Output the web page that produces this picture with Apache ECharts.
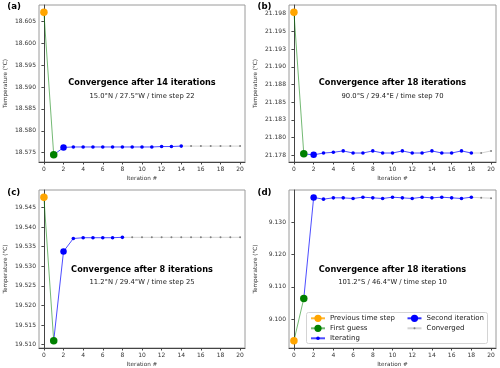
<!DOCTYPE html>
<html><head><meta charset="utf-8">
<script src="https://cdn.jsdelivr.net/npm/echarts@6/dist/echarts.min.js"></script>
<style>html,body{margin:0;padding:0;background:#fff}#c{width:500px;height:368px}</style>
</head><body><div id="c"></div>
<script>
// ---------- data ----------
const panelLabels = ['(a)', '(b)', '(c)', '(d)'];
const titles = ['Convergence after 14 iterations', 'Convergence after 18 iterations',
                'Convergence after 8 iterations', 'Convergence after 18 iterations'];
const subtitles = ['15.0°N / 27.5°W / time step 22', '90.0°S / 29.4°E / time step 70',
                   '11.2°N / 29.4°W / time step 25', '101.2°S / 46.4°W / time step 10'];
const xTicks = [0, 2, 4, 6, 8, 10, 12, 14, 16, 18, 20];
const xName = 'Iteration #';
const yName = 'Temperature (°C)';
const seriesNames = ['Previous time step', 'First guess', 'Iterating', 'Second iteration', 'Converged'];

// panel (a)
const prevA = 18.6071;
const firstA = 18.5745;
const iterA = [18.5762, 18.5763, 18.5763, 18.5763, 18.5763, 18.5763, 18.5763, 18.5763, 18.5763, 18.5763, 18.5764, 18.5764, 18.5765];
const convA = [18.5765, 18.5765, 18.5765, 18.5765, 18.5765, 18.5765];
const yTicksA = [18.575, 18.580, 18.585, 18.590, 18.595, 18.600, 18.605];
const yLabelsA = ['18.575', '18.580', '18.585', '18.590', '18.595', '18.600', '18.605'];

// panel (b)
const prevB = 21.19774;
const firstB = 21.17768;
const iterB = [21.17754, 21.1778, 21.1779, 21.1781, 21.1778, 21.1778, 21.1781, 21.1778, 21.1778, 21.1781, 21.1778, 21.1778, 21.1781, 21.1778, 21.1778, 21.1781, 21.1778];
const convB = [21.1778, 21.1781];
const yTicksB = [21.1775, 21.1800, 21.1825, 21.1850, 21.1875, 21.1900, 21.1925, 21.1950, 21.1975];
const yLabelsB = ['21.178', '21.180', '21.183', '21.185', '21.188', '21.190', '21.193', '21.195', '21.198'];

// panel (c)
const prevC = 19.54766;
const firstC = 19.51095;
const iterC = [19.5338, 19.5371, 19.5373, 19.5373, 19.5373, 19.5373, 19.5374];
const convC = [19.5374, 19.5374, 19.5374, 19.5374, 19.5374, 19.5374, 19.5374, 19.5374, 19.5374, 19.5374, 19.5374, 19.5374];
const yTicksC = [19.510, 19.515, 19.520, 19.525, 19.530, 19.535, 19.540, 19.545];
const yLabelsC = ['19.510', '19.515', '19.520', '19.525', '19.530', '19.535', '19.540', '19.545'];

// panel (d)
const prevD = 9.09337;
const firstD = 9.10644;
const iterD = [9.1376, 9.1371, 9.1375, 9.1375, 9.1373, 9.1377, 9.1375, 9.1373, 9.1377, 9.1375, 9.1373, 9.1377, 9.1375, 9.1377, 9.1375, 9.1373, 9.1377];
const convD = [9.1375, 9.1374];
const yTicksD = [9.100, 9.110, 9.120, 9.130];
const yLabelsD = ['9.100', '9.110', '9.120', '9.130'];

// ---------- build ----------
const panels = [
  {prev: prevA, first: firstA, iter: iterA, conv: convA, ticks: yTicksA, labels: yLabelsA},
  {prev: prevB, first: firstB, iter: iterB, conv: convB, ticks: yTicksB, labels: yLabelsB},
  {prev: prevC, first: firstC, iter: iterC, conv: convC, ticks: yTicksC, labels: yLabelsC},
  {prev: prevD, first: firstD, iter: iterD, conv: convD, ticks: yTicksD, labels: yLabelsD}
];
const gridRects = [
  {left: 39, top: 5, width: 206, height: 157},
  {left: 289, top: 5, width: 207, height: 157},
  {left: 39, top: 190, width: 206, height: 158},
  {left: 289, top: 190, width: 207, height: 158}
];
const FONT = '"DejaVu Sans", sans-serif';
const C_ORANGE = '#FFA500', C_GREEN = '#008000', C_BLUE = '#0000FF', C_GREY = '#808080';

const grid = [], xAxis = [], yAxis = [], series = [], graphics = [];
panels.forEach((p, i) => {
  const all = [p.prev, p.first].concat(p.iter, p.conv);
  const lo = Math.min(...all), hi = Math.max(...all), m = (hi - lo) * 0.05;
  grid.push(Object.assign({show: true, borderColor: '#9a9a9a', borderWidth: 1, outerBoundsMode: 'none', containLabel: false}, gridRects[i]));
  xAxis.push({
    type: 'value', gridIndex: i, min: -0.5, max: 20.5,
    name: xName, nameLocation: 'middle', nameGap: 13.5,
    nameTextStyle: {fontFamily: FONT, fontSize: 5.7, color: '#333'},
    axisLine: {show: true, lineStyle: {color: '#444', width: 1}},
    axisTick: {show: true, length: 2.5, customValues: xTicks, lineStyle: {color: '#444'}},
    axisLabel: {customValues: xTicks, fontFamily: FONT, fontSize: 6, color: '#333', margin: 4},
    splitLine: {show: false}
  });
  yAxis.push({
    type: 'value', gridIndex: i, min: lo - m, max: hi + m,
    name: yName, nameLocation: 'middle', nameGap: 30,
    nameTextStyle: {fontFamily: FONT, fontSize: 5.7, color: '#333'},
    axisLine: {show: true, lineStyle: {color: '#444', width: 1}},
    axisTick: {show: true, length: 2.5, customValues: p.ticks, lineStyle: {color: '#444'}},
    axisLabel: {
      customValues: p.ticks, fontFamily: FONT, fontSize: 6, color: '#333', margin: 3,
      formatter: v => {
        let best = 0;
        p.ticks.forEach((t, k) => { if (Math.abs(t - v) < Math.abs(p.ticks[best] - v)) best = k; });
        return p.labels[best];
      }
    },
    splitLine: {show: false}
  });
  const N = p.iter.length + 1;
  const common = {type: 'line', xAxisIndex: i, yAxisIndex: i, symbol: 'circle', animation: false, silent: true, emphasis: {disabled: true}};
  // Converged
  const convData = [{value: [N, p.iter[p.iter.length - 1]], symbol: 'none'}];
  p.conv.forEach((v, k) => convData.push([N + 1 + k, v]));
  series.push(Object.assign({}, common, {
    name: seriesNames[4], data: convData, z: 2, symbolSize: 2,
    itemStyle: {color: C_GREY}, lineStyle: {color: C_GREY, width: 1, opacity: 0.35}
  }));
  // Iterating
  const iterData = [{value: [1, p.first], symbol: 'none'}];
  p.iter.forEach((v, k) => iterData.push([2 + k, v]));
  series.push(Object.assign({}, common, {
    name: seriesNames[2], data: iterData, z: 3, symbolSize: 3.6,
    itemStyle: {color: C_BLUE}, lineStyle: {color: C_BLUE, width: 1, opacity: 0.7}
  }));
  // First guess
  series.push(Object.assign({}, common, {
    name: seriesNames[1], data: [{value: [0, p.prev], symbol: 'none'}, [1, p.first]], z: 4, symbolSize: 7.5,
    itemStyle: {color: C_GREEN}, lineStyle: {color: C_GREEN, width: 1, opacity: 0.55}
  }));
  // Second iteration
  series.push(Object.assign({}, common, {
    name: seriesNames[3], data: [[2, p.iter[0]]], z: 5, symbolSize: 6.5,
    itemStyle: {color: C_BLUE}, lineStyle: {color: C_BLUE, width: 1, opacity: 0.8}
  }));
  // Previous time step
  series.push(Object.assign({}, common, {
    name: seriesNames[0], data: [[0, p.prev]], z: 6, symbolSize: 7.5,
    itemStyle: {color: C_ORANGE}, lineStyle: {color: C_ORANGE, width: 1, opacity: 0.8}
  }));
  // texts
  const cx = gridRects[i].left + gridRects[i].width / 2;
  const ty = i < 2 ? 83 : 269.5;
  graphics.push({type: 'text', x: cx, y: ty, silent: true, style: {text: titles[i], font: 'bold 8.2px ' + FONT, fill: '#000', align: 'center', verticalAlign: 'middle'}});
  graphics.push({type: 'text', x: cx, y: ty + 13, silent: true, style: {text: subtitles[i], font: '6.8px ' + FONT, fill: '#222', align: 'center', verticalAlign: 'middle'}});
  graphics.push({type: 'text', x: (i % 2 ? 257.5 : 7.3), y: (i < 2 ? 6.3 : 193), silent: true, style: {text: panelLabels[i], font: 'bold 8.6px ' + FONT, fill: '#000', align: 'left', verticalAlign: 'middle'}});
});

// legend frame in panel (d)
graphics.push({type: 'rect', z: 20, silent: true, shape: {x: 306.5, y: 312.5, width: 181, height: 31, r: 2},
  style: {fill: 'rgba(255,255,255,0.85)', stroke: '#d4d4d4', lineWidth: 1}});

const legendItems = [
  {name: seriesNames[0], left: 310, row: 0, h: 9},
  {name: seriesNames[1], left: 310, row: 1, h: 9},
  {name: seriesNames[2], left: 310, row: 2, h: 4.5},
  {name: seriesNames[3], left: 406.5, row: 0, h: 9},
  {name: seriesNames[4], left: 406.5, row: 1, h: 2.5}
];
const rowCenters = [318.3, 328.3, 338.3];
const legend = legendItems.map(it => ({
  data: [it.name], left: it.left, top: rowCenters[it.row] - 5, padding: 0, z: 30,
  itemWidth: 14, itemHeight: it.h, itemGap: 0, selectedMode: false,
  textStyle: {fontFamily: FONT, fontSize: 7, color: '#222', lineHeight: 10, padding: [0, 0, 0, 0]}
}));

const chart = echarts.init(document.getElementById('c'), null, {renderer: 'canvas'});
chart.setOption({animation: false, grid, xAxis, yAxis, series, legend, graphic: {elements: graphics}});
</script>
</body></html>
